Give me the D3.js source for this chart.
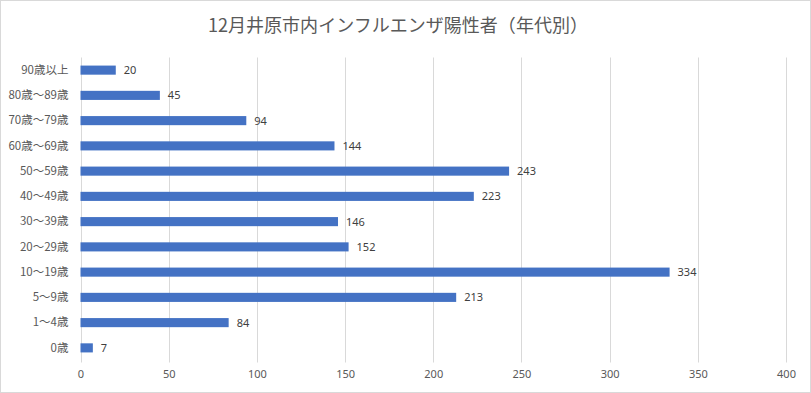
<!DOCTYPE html>
<html>
<head>
<meta charset="utf-8">
<script src="https://cdn.jsdelivr.net/npm/d3@7"></script>
<style>
  body { margin: 0; background: #fff; }
  text { font-family: "Noto Sans CJK JP", "Noto Sans", sans-serif; }
</style>
</head>
<body>
<div id="chart"></div>
<script>
// 年代別 陽性者数（上から順）
const ageGroups = ['90歳以上','80歳～89歳','70歳～79歳','60歳～69歳','50～59歳','40～49歳',
                   '30～39歳','20～29歳','10～19歳','5～9歳','1～4歳','0歳'];
const positives = [20, 45, 94, 144, 243, 223, 146, 152, 334, 213, 84, 7];
const xTicks = [0, 50, 100, 150, 200, 250, 300, 350, 400];
const chartTitle = '12月井原市内インフルエンザ陽性者（年代別）';

const W = 811, H = 393;
const margin = {top: 57.5, right: 25, bottom: 32.5, left: 80.5};

const svg = d3.select('#chart').append('svg')
    .attr('width', W).attr('height', H);

svg.append('rect')
    .attr('x', 0.5).attr('y', 0.5)
    .attr('width', W - 1).attr('height', H - 1)
    .attr('fill', '#fff').attr('stroke', '#d9d9d9');

svg.append('text')
    .attr('x', 398).attr('y', 32)
    .attr('text-anchor', 'middle')
    .attr('textLength', 380).attr('lengthAdjust', 'spacingAndGlyphs')
    .style('font-size', '18px')
    .style('fill', '#595959')
    .text(chartTitle);

const x = d3.scaleLinear().domain([0, 400]).range([margin.left, 786]);
const y = d3.scaleBand().domain(ageGroups)
    .range([margin.top, H - margin.bottom]).paddingInner(0.64).paddingOuter(0.32);

const data = ageGroups.map((g, i) => ({group: g, value: positives[i]}));

// gridlines
svg.append('g')
    .selectAll('line')
    .data(xTicks)
    .join('line')
    .attr('x1', d => Math.round(x(d)) + 0.5).attr('x2', d => Math.round(x(d)) + 0.5)
    .attr('y1', margin.top).attr('y2', H - margin.bottom + 2)
    .attr('stroke', '#d9d9d9').attr('stroke-width', 1);

// x tick labels
const xAxis = svg.append('g')
    .attr('transform', 'translate(0,' + (H - margin.bottom) + ')')
    .call(d3.axisBottom(x).tickValues(xTicks).tickSize(0).tickPadding(10));
xAxis.select('.domain').remove();
xAxis.selectAll('text')
    .style('font-size', '11px').style('fill', '#595959')
    .style('font-family', '"Noto Sans", sans-serif');

// y labels
const yAxis = svg.append('g')
    .attr('transform', 'translate(' + margin.left + ',0)')
    .call(d3.axisLeft(y).tickSize(0).tickPadding(12));
yAxis.select('.domain').remove();
yAxis.selectAll('text')
    .style('font-size', '11.5px').style('fill', '#595959');

// bars
svg.append('g')
    .selectAll('rect')
    .data(data)
    .join('rect')
    .attr('x', x(0))
    .attr('y', d => y(d.group))
    .attr('width', d => x(d.value) - x(0))
    .attr('height', y.bandwidth())
    .attr('fill', '#4472c4');

// value labels
svg.append('g')
    .selectAll('text')
    .data(data)
    .join('text')
    .attr('x', d => x(d.value) + 8)
    .attr('y', d => y(d.group) + y.bandwidth() / 2)
    .attr('dy', '0.36em')
    .style('font-size', '11px')
    .style('font-family', '"Noto Sans", sans-serif')
    .style('fill', '#404040')
    .text(d => d.value);
</script>
</body>
</html>
